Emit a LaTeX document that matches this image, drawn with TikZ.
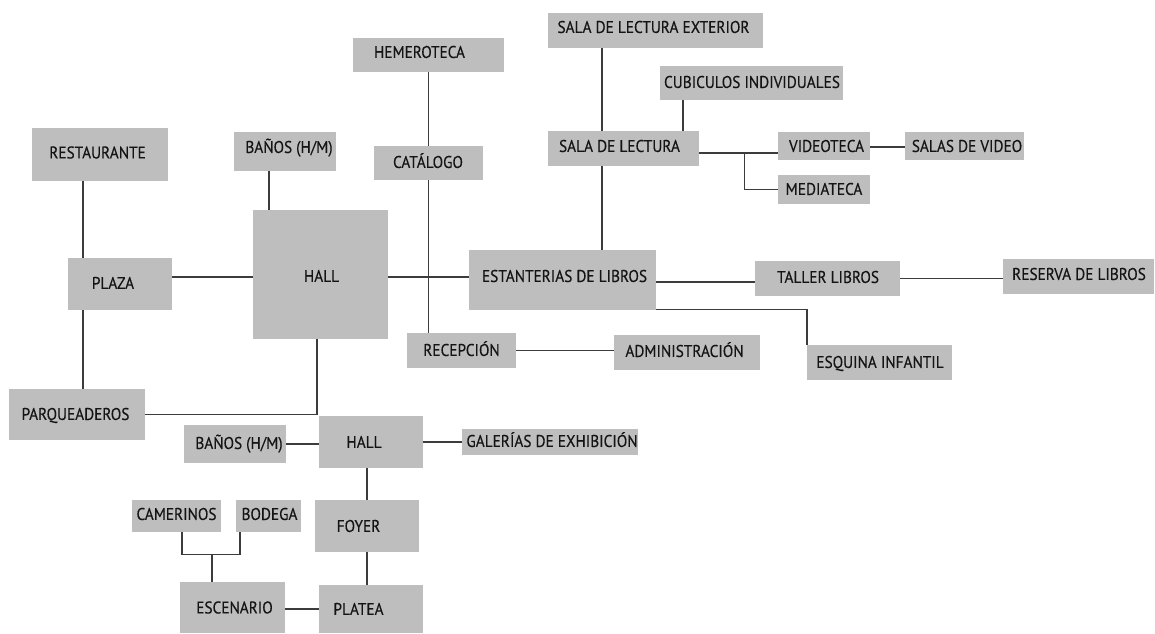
\documentclass[tikz,border=0pt]{standalone}
\usepackage{fontspec}
\newfontfamily\lblfont[FakeStretch=0.9,FakeBold=0.35]{PT Sans}
\definecolor{boxgray}{HTML}{BEBEBE}
\definecolor{linegray}{HTML}{3C3C3C}
\definecolor{txt}{HTML}{141414}
\tikzset{
  box/.style={fill=boxgray, draw=none, inner sep=0pt},
  lbl/.style={font=\lblfont\fontsize{17}{18}\selectfont, text=txt, inner sep=0pt, text height=11.9pt, text depth=0pt},
  conn/.style={draw=linegray, line width=1.4pt}
}
% #1 name, #2 cx, #3 cy, #4 w, #5 h, #6 dx, #7 dy (image px, down positive), #8 text
\newcommand{\bx}[8]{%
  \node[box, minimum width=#4pt, minimum height=#5pt] (#1) at (#2,#3) {};
  \node[lbl] (#1-t) at ([xshift=#6pt,yshift=-#7pt]#1.center) {#8};
}
\begin{document}
\begin{tikzpicture}[x=1pt,y=-1pt]
\useasboundingbox[fill=white] (0,0) rectangle (1155,633);
% boxes
\bx{rest}{100}{154.5}{136}{53}{-2.5}{-2}{RESTAURANTE}
\bx{banosA}{285}{151.5}{102}{39}{4}{-4.5}{BAÑOS (H/M)}
\bx{hallA}{320.5}{274.5}{135}{129}{1}{1.5}{HALL}
\bx{plaza}{120}{284}{104}{52}{-7}{-1}{PLAZA}
\bx{parq}{77}{414.5}{136}{51}{-1.5}{-0.5}{PARQUEADEROS}
\bx{hemer}{428.5}{55}{151}{34}{-9}{-3}{HEMEROTECA}
\bx{catal}{428.5}{163}{109}{34}{-0.5}{-1}{CATÁLOGO}
\bx{salaext}{655.5}{30.5}{215}{35}{-2}{-3.5}{SALA DE LECTURA EXTERIOR}
\bx{cubic}{751.5}{83}{183}{34}{0.5}{-1}{CUBICULOS INDIVIDUALES}
\bx{sala}{623.5}{148.5}{151}{35}{-4}{-2.5}{SALA DE LECTURA}
\bx{video}{824}{146}{92}{28}{2.5}{0}{VIDEOTECA}
\bx{salasv}{964.5}{146}{119}{28}{2.5}{0}{SALAS DE VIDEO}
\bx{media}{824}{189.5}{92}{29}{0}{-0.5}{MEDIATECA}
\bx{estant}{562.5}{280}{187}{60}{2}{-4}{ESTANTERIAS DE LIBROS}
\bx{taller}{827.5}{278.5}{145}{35}{0.5}{-1.5}{TALLER LIBROS}
\bx{reserva}{1078.5}{276.5}{151}{35}{0.5}{-2.5}{RESERVA DE LIBROS}
\bx{recep}{461.5}{350.5}{109}{35}{0}{-0.5}{RECEPCIÓN}
\bx{admin}{687}{352.5}{146}{35}{-2.5}{-1.5}{ADMINISTRACIÓN}
\bx{esquina}{879.5}{362.5}{145}{35}{0.5}{-0.5}{ESQUINA INFANTIL}
\bx{hallB}{371}{442}{104}{52}{-7}{0}{HALL}
\bx{banosB}{235}{444}{102}{38}{4}{-1}{BAÑOS (H/M)}
\bx{galer}{550}{442}{176}{26}{2}{-1}{GALERÍAS DE EXHIBICIÓN}
\bx{camer}{176.5}{516}{89}{32}{0}{-2}{CAMERINOS}
\bx{bodega}{268}{516}{65}{32}{1.5}{-2}{BODEGA}
\bx{foyer}{367}{526}{104}{52}{-8.5}{0}{FOYER}
\bx{escen}{232.5}{607.5}{105}{51}{2}{0}{ESCENARIO}
\bx{platea}{371}{609}{104}{48}{-12.5}{0}{PLATEA}
% connectors
\draw[conn] ([xshift=-17pt]rest.south) -- ([xshift=-17pt]rest.south |- plaza.north);
\draw[conn] ([xshift=-37pt]plaza.south) -- ([xshift=-37pt]plaza.south |- parq.north);
\draw[conn] ([yshift=7pt]plaza.east) -- ([yshift=7pt]plaza.east -| hallA.west);
\draw[conn] ([xshift=-16pt]banosA.south) -- ([xshift=-16pt]banosA.south |- hallA.north);
\draw[conn] ([yshift=-2.5pt]hallA.east) -- ([yshift=-2.5pt]hallA.east -| estant.west);
\draw[conn] (hemer.south) -- (hemer.south |- catal.north);
\draw[conn] (catal.south) -- (catal.south |- recep.north);
\draw[conn] (recep.east) -- (recep.east -| admin.west);
\draw[conn] ([xshift=-53.5pt]salaext.south) -- ([xshift=-53.5pt]salaext.south |- sala.north);
\draw[conn] ([xshift=-21.5pt]sala.south) -- ([xshift=-21.5pt]sala.south |- estant.north);
\draw[conn] ([xshift=-68.5pt]cubic.south) -- ([xshift=-68.5pt]cubic.south |- sala.north);
\draw[conn] ([yshift=-4.5pt]sala.east) -- ([yshift=-4.5pt]sala.east -| video.west);
\coordinate (branch) at ([xshift=45pt,yshift=-4.5pt]sala.east);
\draw[conn] (branch) |- (media.west);
\draw[conn] ([yshift=-1pt]video.east) -- ([yshift=-1pt]video.east -| salasv.west);
\draw[conn] ([yshift=-2pt]estant.east) -- ([yshift=-2pt]estant.east -| taller.west);
\draw[conn] (taller.east) -- (taller.east -| reserva.west);
\draw[conn] ([yshift=0.75pt]estant.south east) -| (esquina.north west);
\draw[conn] (parq.east) -| ([xshift=-3.5pt]hallA.south);
\draw[conn] (banosB.east) -- (banosB.east -| hallB.west);
\draw[conn] (hallB.east) -- (hallB.east -| galer.west);
\draw[conn] ([xshift=-4pt]hallB.south) -- ([xshift=-4pt]hallB.south |- foyer.north);
\draw[conn] (foyer.south) -- (foyer.south |- platea.north);
\draw[conn] ([yshift=-1.5pt]escen.east) -- ([yshift=-1.5pt]escen.east -| platea.west);
\coordinate (stagejoin) at ([xshift=-20.5pt,yshift=-22pt]camer.south -| escen.north);
\draw[conn] ([xshift=5.5pt]camer.south) |- ([xshift=-28pt]bodega.south |- stagejoin) -- ([xshift=-28pt]bodega.south);
\draw[conn] (stagejoin) -- (stagejoin |- escen.north);
\end{tikzpicture}
\end{document}
